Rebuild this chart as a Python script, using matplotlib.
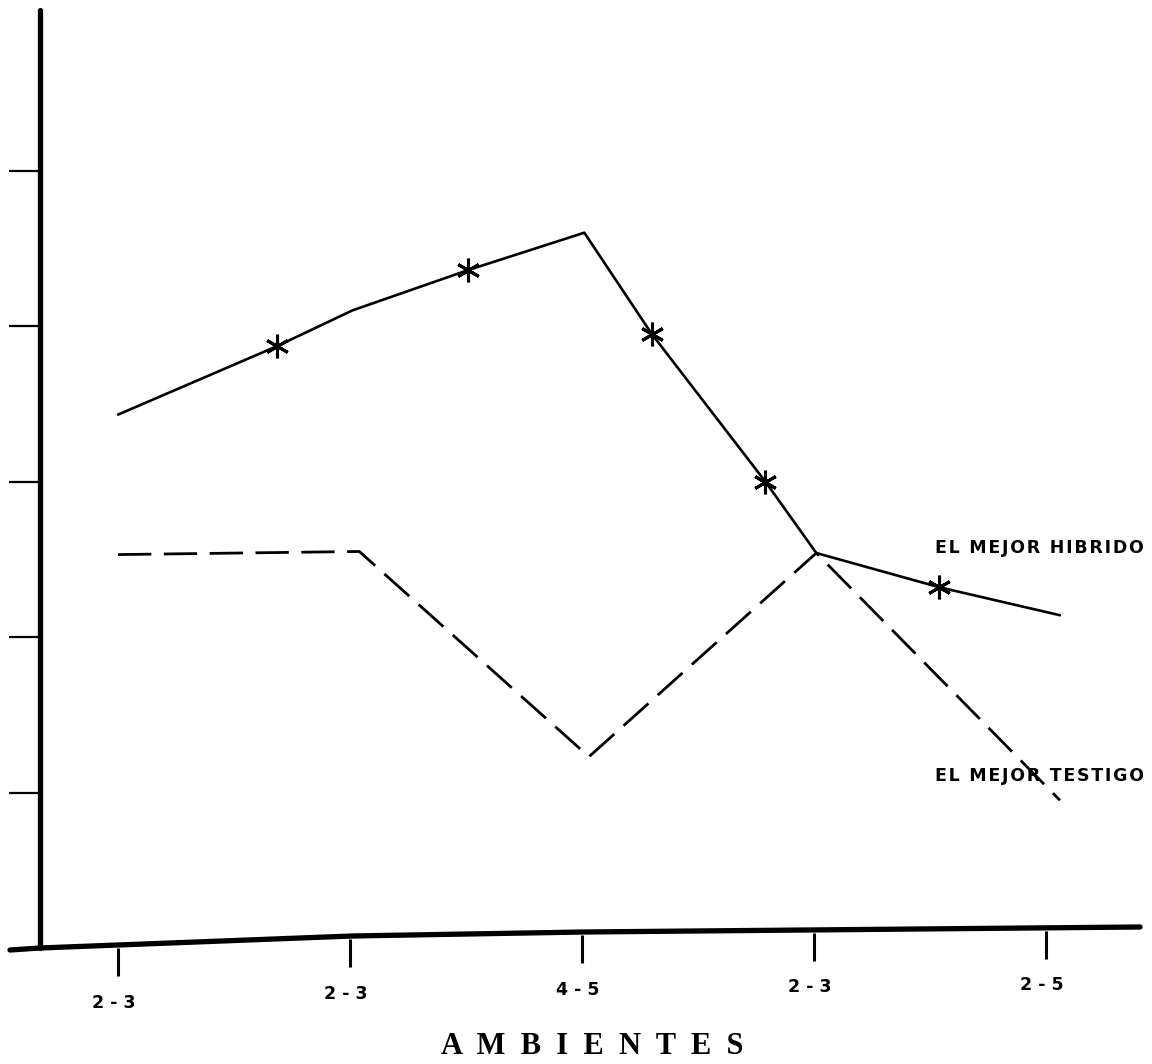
import numpy as np
import matplotlib
matplotlib.use('Agg')
import matplotlib.pyplot as plt

# ambientes (categorias del eje x)
ambientes = ['2 - 3', '2 - 3', '4 - 5', '2 - 3', '2 - 5']

# el mejor hibrido (linea continua); x en unidades de categoria
hib_x = [0.0, 0.685, 1.01, 1.51, 2.01, 2.30, 2.79, 3.01, 3.54, 4.06]
hib_y = [3.43, 3.87, 4.10, 4.36, 4.60, 3.95, 3.00, 2.54, 2.32, 2.14]
# puntos marcados con asterisco
hib_mk_x = [0.685, 1.51, 2.30, 2.79, 3.54]
hib_mk_y = [3.87, 4.36, 3.95, 3.00, 2.32]

# el mejor testigo (linea discontinua)
tes_x = [0.0, 1.04, 2.03, 3.01, 4.06]
tes_y = [2.53, 2.55, 1.23, 2.54, 0.95]

yticks = [1, 2, 3, 4, 5]

W, H = 1152, 1064
fig = plt.figure(figsize=(W/100, H/100), dpi=100)
ax = fig.add_axes([40/W, 1-948/H, (1140-40)/W, (948-10)/H])
xmin, xmax = (40-118)/232, (1140-118)/232
ax.set_xlim(xmin, xmax)
ax.set_ylim(0, (948-10)/155.5)

ax.plot(hib_x, hib_y, color='black', lw=1.9, solid_capstyle='round')
ax.plot(hib_mk_x, hib_mk_y, ls='none', marker=(6, 2, 0), ms=17, mew=2.2, color='black')
ax.plot(tes_x, tes_y, color='black', lw=2.0, ls=(0, (12, 4.5)))

# ejes
for s in ['top', 'right', 'bottom']:
    ax.spines[s].set_visible(False)
ax.spines['left'].set_linewidth(3.8)
ax.spines['left'].set_capstyle('round')
ax.set_yticks(yticks)
ax.set_yticklabels([])
ax.tick_params(axis='y', direction='out', length=22, width=1.6)

# eje x ligeramente inclinado como en el original
axis_px = np.array([10, 40, 352, 584, 1140])
axis_py = np.array([950, 948, 936, 932, 927])
ax_x = (axis_px-118)/232
ax_y = (948-axis_py)/155.5
ax.plot(ax_x, ax_y, color='black', lw=3.8, solid_capstyle='round', clip_on=False)
ax.set_xticks([])

cat = np.arange(len(ambientes))
top = np.interp(cat, ax_x, ax_y) - 0.02
bot = top - 0.18
ax.vlines(cat, bot, top, color='black', lw=2.2, clip_on=False)
for i, lab in enumerate(ambientes):
    ax.text(cat[i]-0.02, bot[i]-0.17, lab, ha='center', va='center', fontsize=12.5,
            fontweight='bold', family='DejaVu Sans')

hs = '\u200a'
ax.text(3.52, 2.57, hs.join('EL MEJOR HIBRIDO'), ha='left', va='center', fontsize=12.5,
        fontweight='bold', family='DejaVu Sans')
ax.text(3.52, 1.106, hs.join('EL MEJOR TESTIGO'), ha='left', va='center', fontsize=12.5,
        fontweight='bold', family='DejaVu Sans')

fig.text(592/W, 1-1047/H, 'A  M  B  I  E  N  T  E  S', ha='center', va='center',
         fontsize=22, fontweight='bold', family='Liberation Serif')

fig.savefig('out.png', dpi=100)
